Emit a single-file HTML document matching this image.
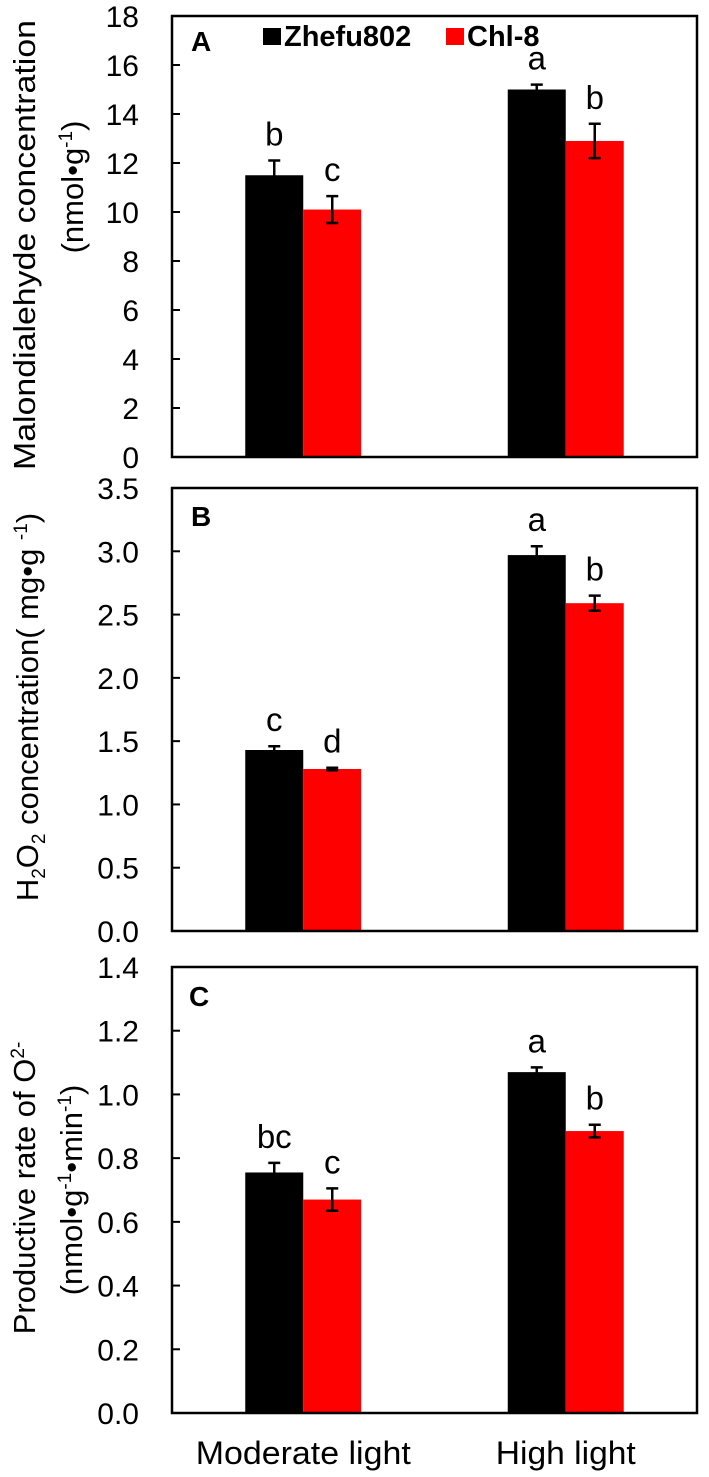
<!DOCTYPE html>
<html><head><meta charset="utf-8"><style>
html,body{margin:0;padding:0;background:#fff}
svg{display:block;font-family:"Liberation Sans",Arial,sans-serif}
</style></head><body>
<svg id="chart" width="709" height="1477" viewBox="0 0 709 1477" xmlns="http://www.w3.org/2000/svg" style="position:absolute;left:0;top:0">
  <text transform="translate(35,245) rotate(-90)" text-anchor="middle" font-size="31" textLength="450" lengthAdjust="spacingAndGlyphs">Malondialehyde concentration</text>
  <text transform="translate(83,187) rotate(-90)" text-anchor="middle" font-size="31">(nmol•g<tspan font-size="19" dy="-11">-1</tspan><tspan dy="11">)</tspan></text>
  <text transform="translate(38,707) rotate(-90)" text-anchor="middle" font-size="31">H<tspan font-size="19" dy="7">2</tspan><tspan dy="-7">O</tspan><tspan font-size="19" dy="7">2</tspan><tspan dy="-7"> concentration( mg•g </tspan><tspan font-size="19" dy="-11">-1</tspan><tspan dy="11">)</tspan></text>
  <text transform="translate(35,1188) rotate(-90)" text-anchor="middle" font-size="31">Productive rate of O<tspan font-size="19" dy="-11">2-</tspan></text>
  <text transform="translate(82,1190) rotate(-90)" text-anchor="middle" font-size="31">(nmol•g<tspan font-size="19" dy="-11">-1</tspan><tspan dy="11">•min</tspan><tspan font-size="19" dy="-11">-1</tspan><tspan dy="11">)</tspan></text>
</svg>
<script>
const categories = ["Moderate light", "High light"];
const seriesNames = ["Zhefu802", "Chl-8"];
const seriesColors = ["#000000", "#ff0000"];
const mdaValues = [[11.5, 10.1], [15.0, 12.9]];
const mdaErrors = [[0.6, 0.55], [0.2, 0.7]];
const mdaLetters = [["b", "c"], ["a", "b"]];
const mdaTicks = [0, 2, 4, 6, 8, 10, 12, 14, 16, 18];
const h2o2Values = [[1.43, 1.28], [2.97, 2.59]];
const h2o2Errors = [[0.03, 0.01], [0.07, 0.06]];
const h2o2Letters = [["c", "d"], ["a", "b"]];
const h2o2Ticks = ["0.0", "0.5", "1.0", "1.5", "2.0", "2.5", "3.0", "3.5"];
const o2Values = [[0.755, 0.67], [1.07, 0.885]];
const o2Errors = [[0.03, 0.035], [0.015, 0.02]];
const o2Letters = [["bc", "c"], ["a", "b"]];
const o2Ticks = ["0.0", "0.2", "0.4", "0.6", "0.8", "1.0", "1.2", "1.4"];

const NS = "http://www.w3.org/2000/svg";
const svg = document.getElementById("chart");
function mk(tag, attrs, parent) {
  const e = document.createElementNS(NS, tag);
  for (const k in attrs) e.setAttribute(k, attrs[k]);
  (parent || svg).appendChild(e);
  return e;
}
const X0 = 172, X1 = 697;
const catW = (X1 - X0) / categories.length;
const barW = 58;
function xCenter(i) { return X0 + catW * (i + 0.5); }

function panel(key, top, bottom, ticks, vals, errs, letters, letterTxt, letterPos) {
  const tmax = parseFloat(ticks[ticks.length - 1]);
  const y = v => bottom - (v / tmax) * (bottom - top);
  const g = mk("g", {});
  
  
  vals.forEach((grp, ci) => {
    grp.forEach((v, si) => {
      const x = xCenter(ci) - barW + si * barW;
      const r = mk("rect", {x: x, y: y(v), width: barW, height: bottom - y(v), fill: seriesColors[si]}, g);
      
      
      const cx = x + barW / 2, e = errs[ci][si];
      const eb = mk("path", {d: `M${cx} ${y(v + e)}V${y(v - e)}M${cx - 6} ${y(v + e)}h12M${cx - 6} ${y(v - e)}h12`, stroke: "#000", "stroke-width": 2.5, fill: "none"}, g);
      
      
      const t = mk("text", {x: cx, y: y(v + e) - 15, "text-anchor": "middle", "font-size": 33}, g);
      t.textContent = letters[ci][si];
      
      
    });
  });
  const f = mk("rect", {x: X0, y: top, width: X1 - X0, height: bottom - top, fill: "none", stroke: "#000", "stroke-width": 2.5}, g);
  
  
  ticks.forEach(tk => {
    const v = parseFloat(tk), yy = y(v);
    if (v > 0 && v < tmax) {
      const l = mk("line", {x1: X0, x2: X0 + 8, y1: yy, y2: yy, stroke: "#000", "stroke-width": 2}, g);
      
      
    }
    const t = mk("text", {x: 139, y: yy + 11, "text-anchor": "end", "font-size": 30}, g);
    t.textContent = tk;
    
    
  });
  const pl = mk("text", {x: letterPos[0], y: letterPos[1], "font-size": 28, "font-weight": "bold"}, g);
  pl.textContent = letterTxt;
  
  
}
panel("a", 16, 457, mdaTicks.map(String), mdaValues, mdaErrors, mdaLetters, "A", [191, 51]);
panel("b", 488, 931, h2o2Ticks, h2o2Values, h2o2Errors, h2o2Letters, "B", [191, 526]);
panel("c", 967, 1413, o2Ticks, o2Values, o2Errors, o2Letters, "C", [189, 1006]);

const lg = mk("g", {});


const legX = [263, 446];
seriesNames.forEach((n, i) => {
  const s = mk("rect", {x: legX[i], y: 28, width: 18, height: 17, fill: seriesColors[i]}, lg);
  
  
  const t = mk("text", {x: legX[i] + 21, y: 46, "font-size": 29, "font-weight": "bold"}, lg);
  t.textContent = n;
  
  
});

const xLabelW = [215, 140];
categories.forEach((c, i) => {
  const t = mk("text", {x: xCenter(i), y: 1464, "text-anchor": "middle", "font-size": 32, textLength: xLabelW[i], lengthAdjust: "spacingAndGlyphs"}, svg);
  t.textContent = c;
  
  
});
</script>
</body></html>
